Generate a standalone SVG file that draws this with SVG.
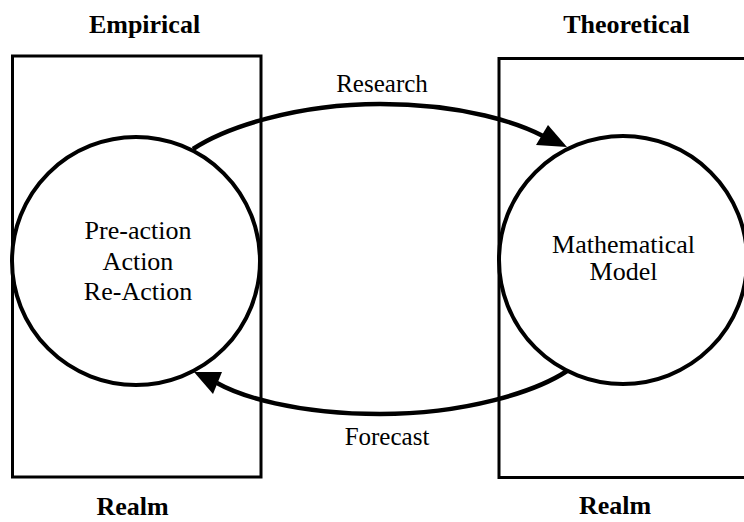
<svg xmlns="http://www.w3.org/2000/svg" width="744" height="522" viewBox="0 0 744 522">
  <style>
    .realm { fill: none; stroke: #000; stroke-width: 3; }
    .body { fill: #fff; stroke: #000; stroke-width: 4; }
    .flow { fill: none; stroke: #000; stroke-width: 4.5; }
    .head { fill: #000; stroke: none; }
    .title { font-family: "Liberation Serif", "Times New Roman", serif; font-weight: bold; font-size: 26px; text-anchor: middle; fill: #000; }
    .label { font-family: "Liberation Serif", "Times New Roman", serif; font-size: 25px; text-anchor: middle; fill: #000; }
    .inner { font-size: 26px; }
  </style>
  <rect width="744" height="522" fill="#fff"/>

  <!-- Empirical realm: frame, headings and circle -->
  <g id="empirical">
    <rect class="realm" x="12.5" y="56" width="248.5" height="421"/>
    <text class="title" x="144.5" y="33">Empirical</text>
    <text class="title" x="132.5" y="515">Realm</text>
    <circle class="body" cx="136" cy="261" r="124"/>
    <text class="label inner" x="138" y="239">Pre-action</text>
    <text class="label inner" x="138" y="270">Action</text>
    <text class="label inner" x="138" y="300">Re-Action</text>
  </g>

  <!-- Theoretical realm: frame runs past the right edge -->
  <g id="theoretical">
    <rect class="realm" x="499" y="58.5" width="260" height="419"/>
    <text class="title" x="626.5" y="33">Theoretical</text>
    <text class="title" x="615" y="514">Realm</text>
    <circle class="body" cx="623" cy="260" r="124"/>
    <text class="label inner" x="623.5" y="253">Mathematical</text>
    <text class="label inner" x="623.5" y="280">Model</text>
  </g>

  <!-- Connectors between the two realms -->
  <g id="connectors">
    <path class="flow" d="M193,149 C225,128 295,104 380,104 C465,104 520,124 543,136"/>
    <polygon class="head" points="567,147 548,125 536,145"/>
    <text class="label" x="382" y="92">Research</text>

    <path class="flow" d="M567,371 C535,392 465,414 380,414 C295,414 240,396 217,383"/>
    <polygon class="head" points="194,372 222,372 213,394"/>
    <text class="label" x="387" y="445">Forecast</text>
  </g>
</svg>
